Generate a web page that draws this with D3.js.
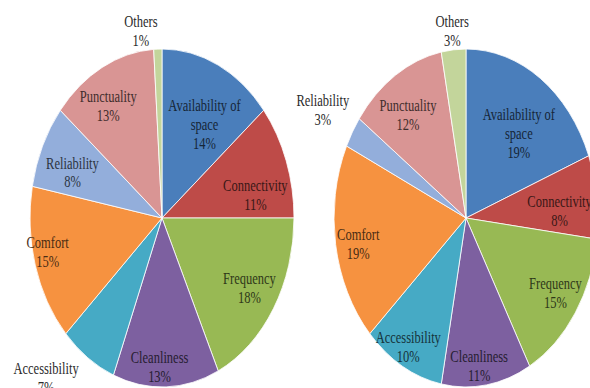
<!DOCTYPE html>
<html>
<head>
<meta charset="utf-8">
<script src="https://cdn.jsdelivr.net/npm/d3@7"></script>
<style>
  html, body { margin: 0; padding: 0; background: #fff; }
  svg { display: block; }
  text { font-family: "Liberation Serif", "Times New Roman", "DejaVu Serif", serif; }
</style>
</head>
<body>
<svg id="chart" width="590" height="388"></svg>
<script>
// Factors rated by respondents, shared by both pies (clockwise from 12 o'clock)
const categories = ["Availability of space", "Connectivity", "Frequency", "Cleanliness",
                    "Accessibility", "Comfort", "Reliability", "Punctuality", "Others"];
// How each category name is broken into lines inside its label
const categoryLines = [["Availability  of", "space"], ["Connectivity"], ["Frequency"], ["Cleanliness"],
                       ["Accessibility"], ["Comfort"], ["Reliability"], ["Punctuality"], ["Others"]];
// Shares in percent
const leftValues  = [14, 11, 18, 13, 7, 15, 8, 13, 1];
const rightValues = [19, 8, 15, 11, 10, 19, 3, 12, 3];
const sliceColors = ["#4a7ebb", "#be4b48", "#98b954", "#7d60a0", "#46aac5",
                     "#f69240", "#93aedb", "#d99594", "#c3d59b"];

// Label placement: [radius as a fraction of the pie radius, angular nudge in degrees]
const leftLabelPlacement  = [[0.64, 5], [0.72, 9], [0.78, -0.5], [0.88, 3], [1.29, 8.7],
                             [0.89, 3], [0.73, -3.5], [0.78, -4.5], [1.12, -6.4]];
const rightLabelPlacement = [[0.64, 4.5], [0.71, 4], [0.81, -1], [0.88, 2.5], [0.88, 1],
                             [0.83, -1.5], [1.26, 0], [0.75, -3.5], [1.11, 0]];

const svg = d3.select("#chart");
const radius = 132;        // horizontal radius of each pie
const stretch = 1.28;      // vertical stretch of the drawing
const fontSize = 12.5;
const lineStep = 14.8;

const pie = d3.pie().sort(null).value(d => d.value);
const arc = d3.arc().innerRadius(0).outerRadius(radius);

function drawPie(cx, cy, values, placement) {
  const data = categories.map((name, i) => ({ name, lines: categoryLines[i], value: values[i], color: sliceColors[i], place: placement[i] }));
  const g = svg.append("g").attr("transform", `translate(${cx},${cy}) scale(1,${stretch})`);

  g.selectAll("path.slice")
    .data(pie(data))
    .join("path")
    .attr("class", "slice")
    .attr("d", arc)
    .attr("fill", d => d.data.color)
    .attr("stroke", "#ffffff")
    .attr("stroke-width", 0.8)
    .attr("vector-effect", "non-scaling-stroke");

  const labels = g.selectAll("text.label")
    .data(pie(data))
    .join("text")
    .attr("class", "label")
    .attr("text-anchor", "middle")
    .attr("font-size", fontSize)
    .attr("fill", d => d.data.place[0] > 1 ? "#2b2b2b" : d3.interpolateRgb(d.data.color, "#000")(0.7))
    .attr("transform", d => {
      const a = (d.startAngle + d.endAngle) / 2 + d.data.place[1] * Math.PI / 180;
      const r = radius * d.data.place[0];
      return `translate(${r * Math.sin(a)},${-r * Math.cos(a)})`;
    });

  labels.each(function(d) {
    const lines = d.data.lines.concat([d.data.value + "%"]);
    const top = -(lines.length - 1) * lineStep / 2;
    d3.select(this).selectAll("tspan")
      .data(lines)
      .join("tspan")
      .attr("x", 0)
      .attr("y", (t, i) => top + i * lineStep)
      .attr("dominant-baseline", "central")
      .text(t => t);
  });
}

drawPie(162, 218, leftValues, leftLabelPlacement);
drawPie(466, 218, rightValues, rightLabelPlacement);
</script>
</body>
</html>
